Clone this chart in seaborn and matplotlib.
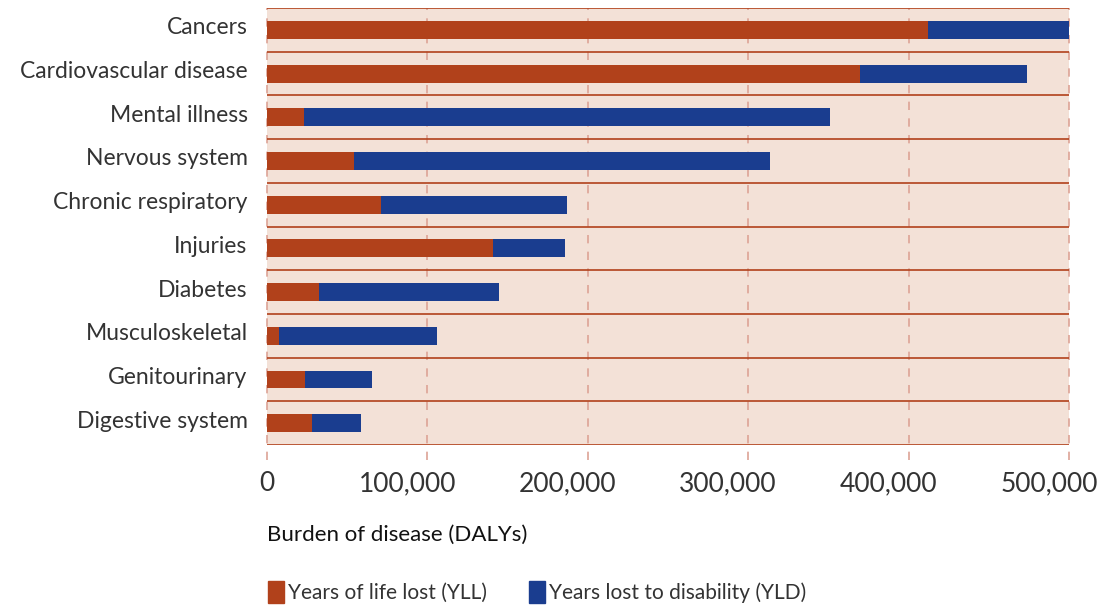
import matplotlib
matplotlib.use('Agg')
import matplotlib.pyplot as plt
import matplotlib.patches as mpatches
import matplotlib.transforms as mtransforms
import seaborn as sns
import pandas as pd

# Burden of disease by group
categories = ['Cancers', 'Cardiovascular disease', 'Mental illness', 'Nervous system',
              'Chronic respiratory', 'Injuries', 'Diabetes', 'Musculoskeletal',
              'Genitourinary', 'Digestive system']
yll = [412000, 369700, 23000, 54000, 71000, 141000, 32400, 7500, 23700, 28000]
yld = [88000, 104100, 328000, 259600, 116000, 44800, 112200, 98500, 41800, 30600]
xticks = [0, 100000, 200000, 300000, 400000, 500000]

df = pd.DataFrame({'category': categories, 'YLL': yll, 'YLD': yld})
df['total'] = df['YLL'] + df['YLD']

red = '#b1411b'
blue = '#1a3d8f'
bg = '#f3e1d7'
txt = '#333333'

sns.set_theme(style='white')
plt.rcParams['font.family'] = ['Lato', 'DejaVu Sans']

fig = plt.figure(figsize=(11.05, 6.08), dpi=100)
ax = fig.add_axes([0.2416, 0.268, 0.7258, 0.7188])
ax.set_facecolor(bg)

sns.barplot(data=df, x='total', y='category', color=blue, width=0.41,
            orient='h', ax=ax, saturation=1, linewidth=0)
sns.barplot(data=df, x='YLL', y='category', color=red, width=0.41,
            orient='h', ax=ax, saturation=1, linewidth=0)

ax.set_xlim(0, 500000)
ax.set_ylim(len(categories) - 0.5, -0.5)

# separator lines between categories
for i in range(len(categories) + 1):
    ax.axhline(i - 0.5, color=red, lw=1.2, zorder=1)

# dashed vertical grid that runs slightly below the axes
for t in xticks:
    ax.axvline(t, ymin=-0.035, ymax=1, color='#dda396', lw=1.2,
               ls=(0, (5, 5)), clip_on=False, zorder=0.5)

for s in ax.spines.values():
    s.set_visible(False)

ax.set_xticks(xticks)
ax.set_xticklabels([f'{t:,}' for t in xticks])
ax.tick_params(axis='x', length=0, pad=19, labelsize=19, labelcolor=txt)
ax.tick_params(axis='y', length=0, pad=14, labelsize=16.5, labelcolor=txt)
# tick numbers sit a little left of their gridline in the reference
shift = mtransforms.ScaledTranslation(-20 / 100, 0, fig.dpi_scale_trans)
for lab in ax.get_xticklabels()[1:]:
    lab.set_transform(lab.get_transform() + shift)
# category names sit slightly above the bar centres
up = mtransforms.ScaledTranslation(0, 4 / 100, fig.dpi_scale_trans)
for lab in ax.get_yticklabels():
    lab.set_transform(lab.get_transform() + up)
ax.set_xlabel('')
ax.set_ylabel('')

fig.text(0.2416, 0.12, 'Burden of disease (DALYs)', fontsize=16,
         color='#111111', ha='left', va='center')

handles = [mpatches.Patch(color=red, label='Years of life lost (YLL)'),
           mpatches.Patch(color=blue, label='Years lost to disability (YLD)')]
fig.legend(handles=handles, loc='center left', bbox_to_anchor=(0.226, 0.026),
           ncol=2, frameon=False, fontsize=15, handlelength=0.75,
           handleheight=1.2, handletextpad=0.2, columnspacing=2.0,
           labelcolor=txt)

plt.savefig('out.png', dpi=100)
plt.close()
